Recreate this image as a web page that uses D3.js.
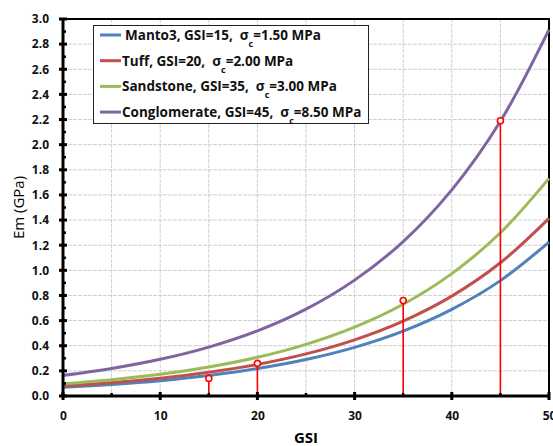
<!DOCTYPE html>
<html>
<head>
<meta charset="utf-8">
<title>Em vs GSI</title>
<script src="https://cdn.jsdelivr.net/npm/d3@7"></script>
<style>
body { margin: 0; background: #fff; }
text { font-family: "Open Sans", "Noto Sans", sans-serif; }
.tick-label { font-size: 12px; font-weight: bold; fill: #111; }
.legend-text { font-size: 13.5px; font-weight: bold; fill: #111; white-space: pre; }
</style>
</head>
<body>
<svg width="553" height="446"></svg>
<script>
// GSI sample positions and values (GPa)
const gsi = [0, 5, 10, 15, 20, 25, 30, 35, 40, 45, 50];
const manto3 = [0.069, 0.092, 0.122, 0.163, 0.218, 0.290, 0.387, 0.516, 0.689, 0.918, 1.225];
const tuff = [0.080, 0.106, 0.141, 0.189, 0.251, 0.335, 0.447, 0.596, 0.795, 1.060, 1.414];
const sandstone = [0.097, 0.130, 0.173, 0.231, 0.308, 0.411, 0.548, 0.730, 0.974, 1.299, 1.732];
const conglomerate = [0.164, 0.219, 0.292, 0.389, 0.518, 0.691, 0.922, 1.229, 1.640, 2.186, 2.915];

const seriesNames = ["Manto3", "Tuff", "Sandstone", "Conglomerate"];
const seriesGsi = [15, 20, 35, 45];
const seriesSigma = ["1.50", "2.00", "3.00", "8.50"];
const seriesColors = ["#4F81BD", "#C0504D", "#9BBB59", "#8064A2"];

// red markers at each rock's GSI
const markerGsi = [15, 20, 35, 45];
const markerEm = [0.14, 0.26, 0.76, 2.19];

const xTicks = [0, 10, 20, 30, 40, 50];
const yTicks = [0, 0.2, 0.4, 0.6, 0.8, 1.0, 1.2, 1.4, 1.6, 1.8, 2.0, 2.2, 2.4, 2.6, 2.8, 3.0];

const allSeries = [manto3, tuff, sandstone, conglomerate];

const svg = d3.select("svg");
const pLeft = 63, pRight = 549, pTop = 19, pBottom = 396;

const x = d3.scaleLinear().domain([0, 50]).range([pLeft, pRight]);
const y = d3.scaleLinear().domain([0, 3]).range([pBottom, pTop]);

// grid
const grid = svg.append("g");
grid.selectAll("line.v")
    .data(d3.range(5, 50, 5))
    .enter().append("line")
    .attr("x1", d => x(d)).attr("x2", d => x(d))
    .attr("y1", pTop).attr("y2", pBottom)
    .attr("stroke", "#cfcfcf").attr("stroke-width", 1)
    .attr("stroke-dasharray", "4,1");
grid.selectAll("line.h")
    .data(yTicks.slice(1, -1))
    .enter().append("line")
    .attr("x1", pLeft).attr("x2", pRight)
    .attr("y1", d => y(d)).attr("y2", d => y(d))
    .attr("stroke", "#cfcfcf").attr("stroke-width", 1)
    .attr("stroke-dasharray", "4,1");

// frame (top + right)
svg.append("path")
    .attr("d", `M${pLeft},${pTop}H${pRight}V${pBottom}`)
    .attr("fill", "none").attr("stroke", "#000").attr("stroke-width", 2);

// curves
const line = d3.line()
    .x((d, i) => x(gsi[i]))
    .y(d => y(d))
    .curve(d3.curveCatmullRom);

svg.append("g").selectAll("path")
    .data(allSeries)
    .enter().append("path")
    .attr("d", line)
    .attr("fill", "none")
    .attr("stroke", (d, i) => seriesColors[i])
    .attr("stroke-width", 3);

// drop lines and markers
svg.append("g").selectAll("line")
    .data(markerGsi)
    .enter().append("line")
    .attr("x1", d => x(d)).attr("x2", d => x(d))
    .attr("y1", (d, i) => y(markerEm[i])).attr("y2", pBottom)
    .attr("stroke", "#ff0000").attr("stroke-width", 1.6);

svg.append("g").selectAll("circle")
    .data(markerGsi)
    .enter().append("circle")
    .attr("cx", d => x(d))
    .attr("cy", (d, i) => y(markerEm[i]))
    .attr("r", 3)
    .attr("fill", "#fff")
    .attr("stroke", "#ff0000").attr("stroke-width", 1.6);

// y axis
const yAxis = svg.append("g").attr("transform", `translate(${pLeft},0)`)
    .call(d3.axisLeft(y).tickValues(yTicks).tickFormat(d3.format(".1f")).tickSize(0).tickPadding(14));
yAxis.select(".domain").remove();
yAxis.selectAll("text").attr("class", "tick-label");
svg.append("g").selectAll("line")
    .data(yTicks)
    .enter().append("line")
    .attr("x1", pLeft - 4).attr("x2", pLeft + 4)
    .attr("y1", d => y(d)).attr("y2", d => y(d))
    .attr("stroke", "#000").attr("stroke-width", 3);
svg.append("g").selectAll("line")
    .data(d3.range(0.1, 3, 0.2))
    .enter().append("line")
    .attr("x1", pLeft).attr("x2", pLeft + 3)
    .attr("y1", d => y(d)).attr("y2", d => y(d))
    .attr("stroke", "#000").attr("stroke-width", 2.5);
svg.append("line")
    .attr("x1", pLeft).attr("x2", pLeft)
    .attr("y1", pTop).attr("y2", pBottom + 1)
    .attr("stroke", "#000").attr("stroke-width", 3);

// x axis
const xAxis = svg.append("g").attr("transform", `translate(0,${pBottom})`)
    .call(d3.axisBottom(x).tickValues(xTicks).tickSize(0).tickPadding(15));
xAxis.select(".domain").remove();
xAxis.selectAll("text").attr("class", "tick-label");
svg.append("g").selectAll("line")
    .data(xTicks)
    .enter().append("line")
    .attr("x1", d => x(d)).attr("x2", d => x(d))
    .attr("y1", pBottom - 4).attr("y2", pBottom + 4)
    .attr("stroke", "#000").attr("stroke-width", 3);
svg.append("g").selectAll("line")
    .data(d3.range(5, 50, 10))
    .enter().append("line")
    .attr("x1", d => x(d)).attr("x2", d => x(d))
    .attr("y1", pBottom - 3).attr("y2", pBottom)
    .attr("stroke", "#000").attr("stroke-width", 2.5);
svg.append("line")
    .attr("x1", pLeft - 1).attr("x2", pRight)
    .attr("y1", pBottom).attr("y2", pBottom)
    .attr("stroke", "#000").attr("stroke-width", 3);

// axis titles
svg.append("text")
    .attr("x", (pLeft + pRight) / 2).attr("y", 443)
    .attr("text-anchor", "middle")
    .style("font-size", "15px").style("font-weight", "bold")
    .text("GSI");
svg.append("text")
    .attr("transform", `translate(24,${(pTop + pBottom) / 2}) rotate(-90)`)
    .attr("text-anchor", "middle")
    .style("font-size", "15px")
    .text("Em (GPa)");

// legend
const lg = svg.append("g");
lg.append("rect")
    .attr("x", 93.5).attr("y", 25.5).attr("width", 275).attr("height", 98)
    .attr("fill", "#fff").attr("stroke", "#222").attr("stroke-width", 1);

const items = lg.selectAll("g.item")
    .data(seriesNames)
    .enter().append("g")
    .attr("transform", (d, i) => `translate(0,${35 + i * 25.7})`);
items.append("line")
    .attr("x1", 100).attr("x2", 121)
    .attr("stroke", (d, i) => seriesColors[i]).attr("stroke-width", 3);
const lt = items.append("text")
    .attr("class", "legend-text")
    .attr("x", (d, i) => i === 0 ? 125 : 122)
    .attr("y", 5);
lt.append("tspan").text((d, i) => `${d}, GSI=${seriesGsi[i]},  σ`);
lt.append("tspan").attr("baseline-shift", "sub").style("font-size", "9px").text("c");
lt.append("tspan").text((d, i) => `=${seriesSigma[i]} MPa`);
</script>
</body>
</html>
